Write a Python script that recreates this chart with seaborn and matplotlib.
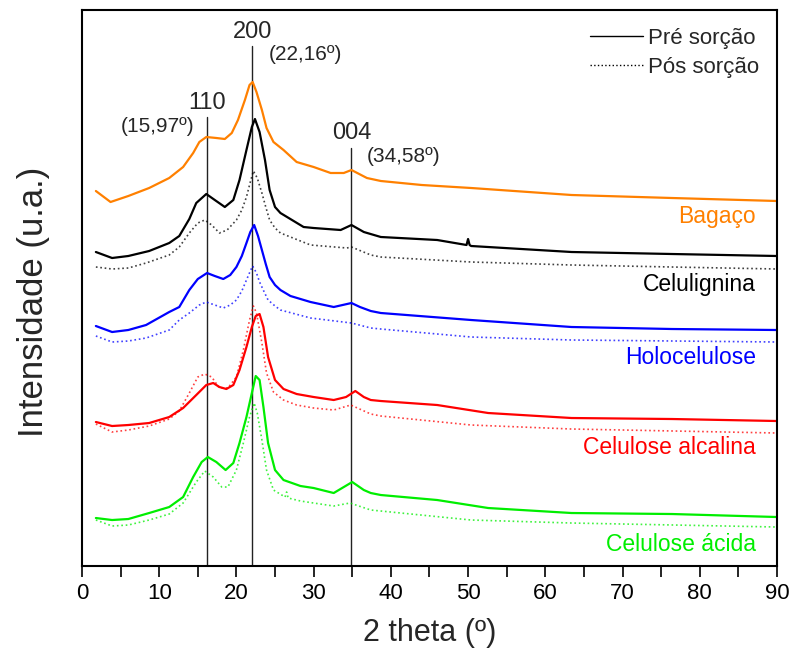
import numpy as np
import pandas as pd
import matplotlib
matplotlib.use("Agg")
import matplotlib.pyplot as plt
from matplotlib.ticker import MultipleLocator
from matplotlib.lines import Line2D
import seaborn as sns

# 2-theta (degrees) and stacked intensity (a.u.) for each sample
bagaco_pre_x = [1.8, 3.7, 6.0, 8.7, 11.3, 13.1, 14.4, 15.2, 16.1, 17.4, 18.5, 19.4, 20.2, 21.1, 21.7,
                22.1, 22.6, 23.3, 23.9, 24.8, 26.1, 27.8, 30.0, 32.2, 33.9, 34.9, 36.9, 38.7, 44.0,
                50.4, 63.4, 76.4, 90.0]
bagaco_pre_y = [375, 364, 370, 378, 388, 399, 413, 424, 429, 428, 427, 433, 446, 466, 481,
                484, 474, 456, 438, 424, 416, 404, 399, 393, 393, 396, 388, 385, 381,
                378, 371, 368, 365]

celulignina_pre_x = [1.8, 3.9, 6.0, 8.7, 11.3, 12.6, 13.9, 14.8, 16.1, 17.2, 18.5, 19.6, 20.4, 21.3,
                     22.0, 22.4, 23.0, 23.7, 24.3, 25.0, 25.7, 28.7, 30.0, 33.5, 34.9, 36.5, 38.7,
                     46.0, 49.8, 50.0, 50.2, 50.4, 63.4, 76.4, 90.0]
celulignina_pre_y = [314, 308, 310, 315, 323, 330, 347, 363, 372, 366, 359, 366, 386, 416,
                     439, 447, 434, 406, 376, 359, 353, 339, 338, 336, 341, 334, 329,
                     326, 321, 327, 321, 320, 314, 312, 310]

celulignina_pos_x = [1.8, 3.9, 6.0, 8.3, 11.3, 12.6, 13.9, 15.0, 15.9, 16.8, 17.8, 18.8, 20.0, 20.7,
                     21.3, 21.8, 22.2, 22.7, 23.3, 23.8, 24.3, 25.0, 25.7, 29.6, 34.3, 34.9, 37.4,
                     38.7, 50.4, 63.4, 76.4, 90.0]
celulignina_pos_y = [299, 297, 298, 303, 311, 319, 333, 343, 346, 341, 333, 336, 346, 356,
                     369, 384, 395, 388, 373, 359, 346, 338, 333, 321, 318, 319, 311,
                     309, 304, 301, 299, 297]

holo_pre_x = [1.8, 3.9, 6.0, 8.3, 11.3, 12.6, 13.9, 15.0, 16.2, 17.2, 18.3, 19.2, 20.0, 20.7, 21.3,
              21.8, 22.3, 22.8, 23.3, 23.8, 24.3, 25.0, 25.7, 27.0, 29.6, 32.6, 34.9, 36.0, 37.4,
              38.7, 50.4, 63.4, 76.4, 90.0]
holo_pre_y = [240, 234, 236, 241, 254, 259, 276, 287, 293, 290, 287, 291, 299, 310, 323,
              334, 341, 330, 316, 302, 289, 281, 276, 270, 264, 259, 263, 259, 255,
              253, 246, 239, 237, 236]

holo_pos_x = [1.8, 3.9, 6.0, 8.3, 11.3, 12.6, 13.9, 15.2, 16.1, 17.2, 18.3, 19.2, 20.0, 20.7, 21.3,
              21.8, 22.1, 22.6, 23.0, 23.6, 24.1, 25.0, 25.7, 29.6, 34.9, 37.4, 38.7, 50.4, 63.4, 90.0]
holo_pos_y = [230, 224, 225, 228, 236, 246, 253, 261, 264, 261, 258, 261, 266, 275, 286,
              295, 300, 293, 284, 274, 266, 260, 256, 248, 243, 238, 237, 229, 226, 224]

alcalina_pre_x = [1.8, 3.9, 6.0, 8.7, 11.3, 13.1, 14.8, 16.1, 17.0, 17.8, 18.7, 19.6, 20.4, 21.3, 22.0,
                  22.5, 23.0, 23.5, 24.1, 25.0, 26.1, 27.8, 30.0, 32.6, 34.2, 35.4, 36.5, 37.4, 38.7,
                  46.0, 52.6, 63.4, 76.4, 90.0]
alcalina_pre_y = [144, 140, 141, 143, 149, 158, 171, 181, 183, 179, 177, 181, 196, 219, 239,
                  250, 252, 239, 209, 186, 177, 172, 169, 166, 169, 175, 169, 166, 165,
                  161, 153, 148, 147, 145]

alcalina_pos_x = [1.8, 3.9, 6.0, 8.7, 11.3, 12.6, 13.9, 15.0, 15.9, 16.8, 17.8, 18.9, 20.0, 20.9, 21.7,
                  22.2, 22.6, 23.3, 23.9, 24.8, 26.1, 27.8, 30.0, 32.6, 34.8, 37.4, 38.7, 50.4, 63.4, 90.0]
alcalina_pos_y = [142, 134, 136, 140, 147, 155, 173, 189, 192, 189, 178, 178, 189, 216, 246,
                  260, 253, 223, 193, 174, 166, 161, 158, 156, 161, 152, 150, 141, 137, 133]

acida_pre_x = [1.8, 3.9, 6.0, 8.7, 11.3, 13.1, 14.4, 15.5, 16.3, 17.4, 18.6, 19.6, 20.4, 21.3, 22.0,
               22.5, 23.0, 23.5, 24.1, 25.0, 26.1, 28.3, 30.0, 32.6, 35.0, 36.5, 37.4, 38.7, 46.0,
               52.6, 63.4, 76.4, 90.0]
acida_pre_y = [48, 46, 47, 53, 59, 69, 89, 104, 109, 104, 96, 103, 123, 149, 173,
               190, 186, 159, 123, 96, 86, 80, 78, 73, 84, 76, 73, 71, 66,
               58, 53, 52, 49]

acida_pos_x = [1.8, 3.9, 6.0, 8.7, 11.3, 13.1, 14.8, 15.9, 17.0, 18.1, 18.9, 20.0, 20.9, 21.7, 22.3,
               22.7, 23.3, 23.9, 24.8, 26.3, 26.5, 26.7, 28.3, 30.0, 32.6, 34.7, 37.4, 38.7, 50.4,
               63.4, 90.0]
acida_pos_y = [46, 40, 41, 46, 52, 63, 84, 95, 89, 79, 79, 96, 123, 149, 163,
               153, 126, 96, 76, 69, 74, 68, 65, 63, 60, 63, 56, 55, 46,
               43, 39]

samples = ["Bagaço", "Celulignina", "Holocelulose", "Celulose alcalina", "Celulose ácida"]
sample_colors = ["#FF8000", "#000000", "#0000FF", "#FF0000", "#00EE00"]
label_y = [350, 282, 209, 119, 22]

# reflection positions and annotations
peak_pos = [16.2, 22.05, 34.9]
peak_top = [449, 520, 418]
peak_hkl = ["110", "200", "004"]
peak_angle = ["(15,97º)", "(22,16º)", "(34,58º)"]

sns.set_theme(style="white")
plt.rcParams["font.family"] = ["Liberation Sans", "DejaVu Sans"]

fig = plt.figure(figsize=(7.92, 6.53), dpi=100)
ax = fig.add_axes([0.1035, 0.1332, 0.8775, 0.8515])

curves = [
    (bagaco_pre_x, bagaco_pre_y, 0, "-"),
    (celulignina_pos_x, celulignina_pos_y, 1, ":"),
    (celulignina_pre_x, celulignina_pre_y, 1, "-"),
    (holo_pos_x, holo_pos_y, 2, ":"),
    (holo_pre_x, holo_pre_y, 2, "-"),
    (alcalina_pos_x, alcalina_pos_y, 3, ":"),
    (alcalina_pre_x, alcalina_pre_y, 3, "-"),
    (acida_pos_x, acida_pos_y, 4, ":"),
    (acida_pre_x, acida_pre_y, 4, "-"),
]
for xs, ys, idx, ls in curves:
    df = pd.DataFrame({"theta": xs, "I": ys})
    sns.lineplot(data=df, x="theta", y="I", ax=ax, color=sample_colors[idx],
                 linestyle=ls, linewidth=1.6 if ls == "-" else 1.2,
                 alpha=1.0 if ls == "-" else 0.75, sort=False, estimator=None)

# vertical reference lines at the cellulose reflections
for px, top in zip(peak_pos, peak_top):
    ax.plot([px, px], [0, top], color="#222222", linewidth=1.0, zorder=1)

ax.text(16.2, 452, peak_hkl[0], ha="center", va="bottom", fontsize=17)
ax.text(9.8, 439, peak_angle[0], ha="center", va="center", fontsize=15)
ax.text(22.05, 523, peak_hkl[1], ha="center", va="bottom", fontsize=17)
ax.text(28.9, 511, peak_angle[1], ha="center", va="center", fontsize=15)
ax.text(34.9, 422, peak_hkl[2], ha="center", va="bottom", fontsize=17)
ax.text(41.7, 409, peak_angle[2], ha="center", va="center", fontsize=15)

for name, col, ly in zip(samples, sample_colors, label_y):
    ax.text(87.3, ly, name, color=col, ha="right", va="center", fontsize=16.5)

handles = [Line2D([0], [0], color="black", linestyle="-", linewidth=1.0),
           Line2D([0], [0], color="black", linestyle=":", linewidth=1.0)]
ax.legend(handles, ["Pré sorção", "Pós sorção"], loc="upper right", frameon=False,
          fontsize=16, handlelength=2.4, handletextpad=0.2, labelspacing=0.35,
          bbox_to_anchor=(0.993, 0.992), borderaxespad=0.2)

ax.set_xlim(0, 90)
ax.set_ylim(0, 556)
ax.xaxis.set_major_locator(MultipleLocator(10))
ax.xaxis.set_minor_locator(MultipleLocator(5))
ax.set_yticks([])
ax.tick_params(axis="x", which="both", direction="out", length=8, width=1.2,
               bottom=True, labelsize=16, pad=4, colors="black")
for sp in ax.spines.values():
    sp.set_visible(True)
    sp.set_color("black")
    sp.set_linewidth(1.5)

ax.set_xlabel("2 theta (º)", fontsize=22, labelpad=10)
ax.set_ylabel("Intensidade (u.a.)", fontsize=25)
ax.yaxis.set_label_coords(-0.046, 0.475)

fig.savefig("out.png", dpi=100)
